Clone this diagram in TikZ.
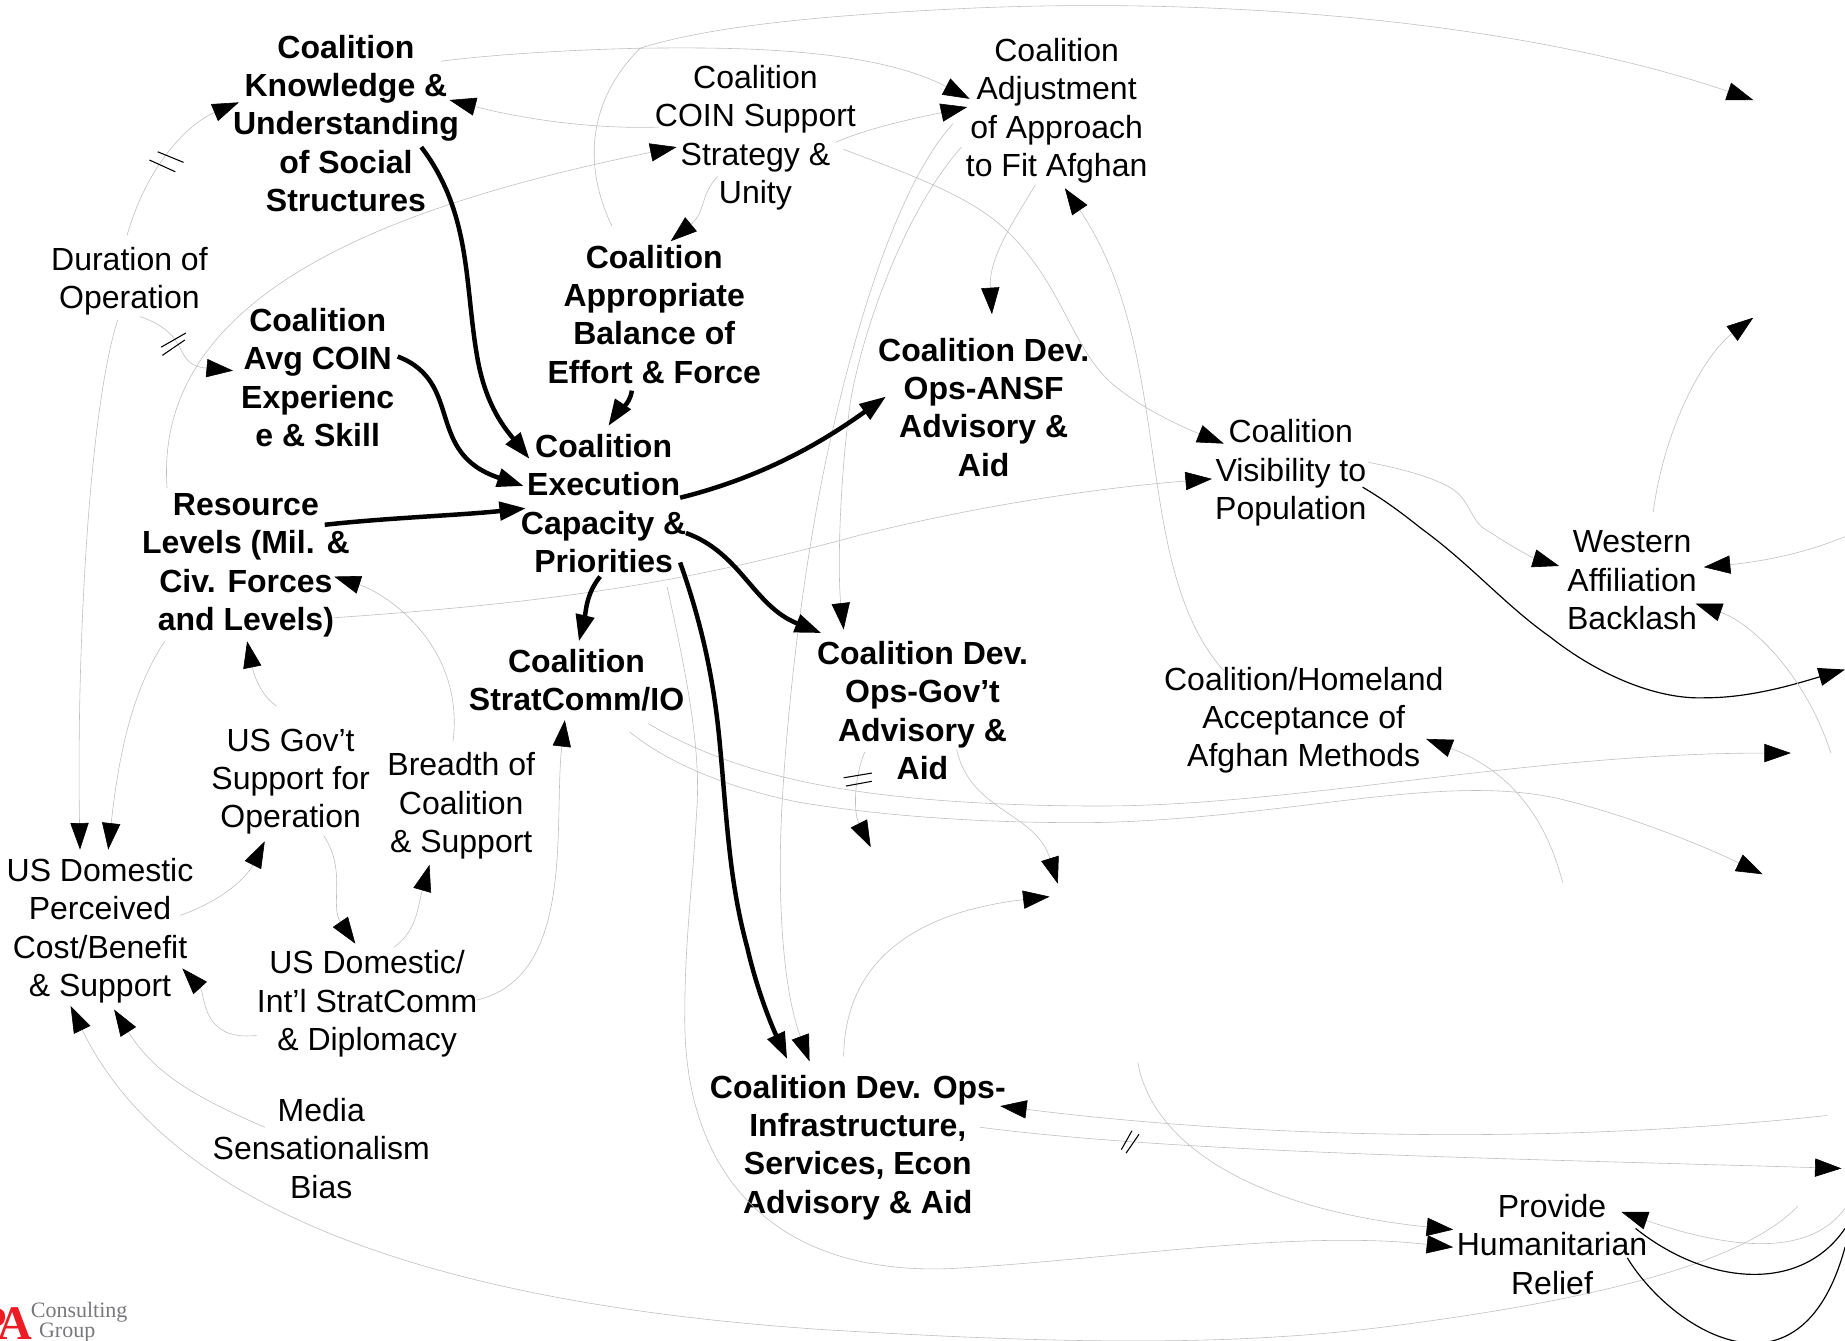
\documentclass[tikz,border=0pt]{standalone}
\usepackage{fontspec}
\setmainfont{Liberation Sans}
\newfontfamily\logofont{Liberation Serif}
\usetikzlibrary{arrows.meta,calc}
\definecolor{logored}{HTML}{ED1C24}
\definecolor{logogray}{HTML}{77787B}
\newcommand\lifta{\rule{0pt}{25.8pt}}
\newcommand\liftb{\rule{0pt}{23.8pt}}
\newcommand\liftc{\rule{0pt}{20.8pt}}
\tikzset{
  lbl/.style={align=center,inner sep=0pt,font=\fontsize{27.2}{32.6}\selectfont,text=black},
  lblb/.style={lbl,font=\fontsize{27.2}{32.6}\selectfont\bfseries},
  tip/.style={-{Triangle[length=22.5pt,width=15.5pt,color=black,fill=black]}},
  weaklink/.style={tip,draw=gray!50,line width=.5pt},
  blacklink/.style={draw=black,line width=1pt},
  blacktip/.style={blacklink,tip},
  boldlink/.style={tip,draw=black,line width=3.8pt},
  hashmark/.style={draw=black,line width=.9pt},
}
\begin{document}
\begin{tikzpicture}[x=1pt,y=-1pt]
\useasboundingbox (0,0) rectangle (1568,1139);
\node[lblb] (kn) at (294,105) {Coalition\\Knowledge \&\\Understanding\\of Social\\Structures};
\node[lbl] (cs) at (642,114) {\lifta Coalition\\COIN Support\\Strategy \&\\Unity};
\node[lbl] (aa) at (898,91) {\lifta Coalition\\Adjustment\\of Approach\\to Fit Afghan};
\node[lblb] (ab) at (556,267) {Coalition\\Appropriate\\Balance of\\Effort \& Force};
\node[lbl] (dur) at (110,236) {\lifta Duration of\\Operation};
\node[lblb] (avg) at (270,321) {Coalition\\Avg COIN\\Experienc\\e \& Skill};
\node[lblb] (ansf) at (836,346) {Coalition Dev.\\Ops-ANSF\\Advisory \&\\Aid};
\node[lblb] (ce) at (513,428) {Coalition\\Execution\\Capacity \&\\Priorities};
\node[lblb] (res) at (209,477) {\lifta Resource\\Levels (Mil. \&\\Civ. Forces\\and Levels)};
\node[lbl] (vis) at (1097,399) {\lifta Coalition\\Visibility to\\Population};
\node[lbl] (wab) at (1387,492) {\liftc Western\\Affiliation\\Backlash};
\node[lblb] (sc) at (490,578) {Coalition\\StratComm/IO};
\node[lblb] (gov) at (784,604) {Coalition Dev.\\Ops-Gov’t\\Advisory \&\\Aid};
\node[lbl] (hom) at (1108,610) {\liftb Coalition/Homeland\\Acceptance of\\Afghan Methods};
\node[lbl] (usg) at (247,661) {\lifta US Gov’t\\Support for\\Operation};
\node[lbl] (bre) at (392,683) {\liftb Breadth of\\Coalition\\\& Support};
\node[lbl] (usd) at (85,789) {\liftb US Domestic\\Perceived\\Cost/Benefit\\\& Support};
\node[lbl] (dip) at (312,851) {\liftb US Domestic/\\Int’l StratComm\\\& Diplomacy};
\node[lbl] (med) at (273,976) {Media\\Sensationalism\\Bias};
\node[lblb] (inf) at (729,973) {\liftb Coalition Dev. Ops-\\Infrastructure,\\Services, Econ\\Advisory \& Aid};
\node[lbl] (hum) at (1319,1057) {\liftc Provide\\Humanitarian\\Relief};
% logo
\node[inner sep=0pt,anchor=base east,text=logored,font=\logofont\fontsize{41}{41}\selectfont\bfseries] (logopa) at (28,1138) {P\kern-8pt A};
\node[inner sep=0pt,anchor=base west,align=left,text=logogray,font=\logofont\fontsize{18.7}{15}\selectfont] (logoc) at (26,1137) {Consulting\\\hspace*{7pt}Group};
% free ends
\coordinate (t1) at (1490,85);
\coordinate (t2) at (740,720);
\coordinate (t3) at (899,751);
\coordinate (t4) at (892,762);
\coordinate (t5) at (1522,640);
\coordinate (t6) at (1498,743);
\coordinate (s1) at (1328,750);
\coordinate (t7) at (1568,569);
\coordinate (t8) at (1490,270);
\coordinate (s2) at (1568,456);
\coordinate (s3) at (1556,640);
\coordinate (s4) at (1553,948);
\coordinate (t9) at (1565,993);
\coordinate (s5) at (967,903);
\coordinate (s6) at (1568,1027);
\coordinate (e1) at (1568,1044);
\coordinate (e2) at (1568,1060);
% thin connectors
\draw[weaklink] ($(kn)+(81,-53)$) .. controls (430,45) and (500,42) .. (544,41) .. controls (620,40) and (740,40) .. ($(aa)+(-74,-7)$);
\draw[weaklink] ($(ab)+(-36,-75)$) .. controls (495,140) and (500,85) .. (544,41) .. controls (610,20) and (720,12) .. (824,7) .. controls (1050,-3) and (1300,20) .. (t1);
\draw[weaklink] ($(cs)+(-82,-6)$) .. controls (500,110) and (440,100) .. ($(kn)+(88,-20)$);
\draw[weaklink] ($(cs)+(68,7)$) .. controls (740,108) and (780,100) .. ($(aa)+(-76,0)$);
\draw[weaklink] ($(cs)+(-32,36)$) .. controls (595,165) and (600,180) .. ($(ab)+(14,-62)$);
\draw[weaklink] ($(cs)+(75,13)$) .. controls (770,147) and (820,165) .. (850,191) .. controls (905,240) and (910,300) .. (950,330) .. controls (975,350) and (1010,365) .. ($(vis)+(-57,-22)$);
\draw[weaklink] ($(aa)+(-18,66)$) .. controls (860,190) and (840,220) .. ($(ansf)+(7,-79)$);
\draw[weaklink] ($(dur)+(-2,-36)$) .. controls (125,140) and (160,105) .. ($(kn)+(-91,-18)$);
\draw[weaklink] ($(dur)+(9,33)$) .. controls (165,285) and (145,310) .. ($(avg)+(-72,-6)$);
\draw[weaklink] ($(dur)+(-10,36)$) .. controls (75,350) and (65,560) .. ($(usd)+(-17,-67)$);
\draw[weaklink] ($(res)+(-67,-62)$) .. controls (130,250) and (330,175) .. ($(cs)+(-67,11)$);
\draw[weaklink] ($(res)+(75,48)$) .. controls (500,510) and (600,490) .. (730,455) .. controls (830,430) and (930,415) .. ($(vis)+(-67,8)$);
\draw[weaklink] ($(res)+(-69,68)$) .. controls (110,590) and (100,650) .. ($(usd)+(7,-67)$);
\draw[weaklink] ($(usg)+(-12,-61)$) .. controls (220,590) and (215,570) .. ($(res)+(1,68)$);
\draw[weaklink] ($(bre)+(-7,-53)$) .. controls (395,550) and (330,505) .. ($(res)+(75,13)$);
\draw[weaklink] ($(usd)+(68,-11)$) .. controls (190,765) and (210,745) .. ($(usg)+(-22,54)$);
\draw[weaklink] ($(usg)+(28,49)$) .. controls (295,740) and (280,770) .. ($(dip)+(-10,-49)$);
\draw[weaklink] ($(dip)+(23,-46)$) .. controls (355,790) and (355,770) .. ($(bre)+(-27,52)$);
\draw[weaklink] ($(dip)+(93,-1)$) .. controls (490,830) and (470,700) .. ($(sc)+(-10,34)$);
\draw[weaklink] ($(dip)+(-94,29)$) .. controls (170,885) and (175,845) .. ($(usd)+(70,34)$);
\draw[weaklink] ($(med)+(-48,-18)$) .. controls (160,930) and (130,910) .. ($(usd)+(12,69)$);
\draw[weaklink] ($(hum)+(209,-32)$) .. controls (1480,1075) and (1350,1105) .. (1190,1126) .. controls (1050,1145) and (900,1142) .. (700,1130) .. controls (400,1110) and (150,1040) .. ($(usd)+(-25,66)$);
\draw[weaklink] ($(ce)+(54,71)$) .. controls (585,580) and (596,640) .. (592,691) .. controls (588,760) and (582,800) .. (582,861) .. controls (580,1000) and (660,1085) .. (810,1078) .. controls (950,1070) and (1100,1045) .. ($(hum)+(-84,3)$);
\draw[weaklink] ($(aa)+(-88,14)$) .. controls (760,160) and (725,290) .. (708,364) .. controls (690,440) and (672,560) .. (665,677) .. controls (660,760) and (665,840) .. ($(inf)+(-41,-71)$);
\draw[weaklink] ($(aa)+(-81,34)$) .. controls (760,190) and (725,310) .. (721,355) .. controls (713,420) and (712,490) .. ($(gov)+(-67,-69)$);
\draw[weaklink] ($(gov)+(-49,35)$) .. controls (726,660) and (725,690) .. (t2);
\draw[weaklink] ($(gov)+(29,33)$) .. controls (825,690) and (880,690) .. (t3);
\draw[weaklink] ($(inf)+(-12,-75)$) .. controls (718,815) and (780,775) .. (t4);
\draw[weaklink] ($(sc)+(61,37)$) .. controls (610,650) and (680,668) .. (765,677) .. controls (810,682) and (870,685) .. (935,685) .. controls (1100,685) and (1300,640) .. (t5);
\draw[weaklink] ($(sc)+(45,44)$) .. controls (570,650) and (620,670) .. (680,682) .. controls (760,695) and (850,700) .. (935,699) .. controls (1100,695) and (1230,655) .. (1330,680) .. controls (1390,695) and (1450,720) .. (t6);
\draw[weaklink] (s1) .. controls (1310,680) and (1270,650) .. ($(hom)+(104,18)$);
\draw[weaklink] ($(hom)+(-68,-40)$) .. controls (960,480) and (1000,300) .. ($(aa)+(7,69)$);
\draw[weaklink] ($(vis)+(66,-6)$) .. controls (1190,398) and (1220,406) .. (1235,416) .. controls (1250,426) and (1250,445) .. (1266,452) .. controls (1285,465) and (1305,475) .. ($(wab)+(-62,-11)$);
\draw[blacktip] ($(vis)+(61,15)$) .. controls (1180,427) and (1195,439) .. (1209,450) .. controls (1250,480) and (1280,515) .. (1317,541) .. controls (1360,575) and (1410,595) .. (1450,593) .. controls (1490,593) and (1530,580) .. (t7);
\draw[weaklink] ($(wab)+(18,-57)$) .. controls (1415,360) and (1450,300) .. (t8);
\draw[weaklink] (s2) .. controls (1530,472) and (1490,478) .. ($(wab)+(61,-10)$);
\draw[weaklink] (s3) .. controls (1535,575) and (1490,530) .. ($(wab)+(54,21)$);
\draw[weaklink] (s4) .. controls (1300,975) and (1050,965) .. ($(inf)+(121,-33)$);
\draw[weaklink] ($(inf)+(104,-15)$) .. controls (1000,980) and (1300,985) .. (t9);
\draw[weaklink] (s5) .. controls (980,975) and (1070,1028) .. ($(hum)+(-84,-12)$);
\draw[weaklink] (s6) .. controls (1540,1065) and (1480,1065) .. ($(hum)+(59,-27)$);
\draw[blacklink] ($(hum)+(71,-13)$) .. controls (1450,1092) and (1530,1100) .. (e1);
\draw[blacklink] ($(hum)+(64,12)$) .. controls (1420,1130) and (1530,1200) .. (e2);
% bold connectors
\draw[boldlink] ($(kn)+(64,20)$) .. controls (400,180) and (395,240) .. (405,300) .. controls (412,345) and (430,365) .. ($(ce)+(-63,-38)$);
\draw[boldlink] ($(avg)+(68,-18)$) .. controls (395,325) and (360,385) .. ($(ce)+(-68,-15)$);
\draw[boldlink] ($(res)+(67,-31)$) .. controls (330,440) and (390,438) .. ($(ce)+(-66,4)$);
\draw[boldlink] ($(ab)+(-19,65)$) .. controls (535,345) and (525,350) .. ($(ce)+(4,-66)$);
\draw[boldlink] ($(ce)+(65,-5)$) .. controls (650,405) and (700,375) .. ($(ansf)+(-83,-9)$);
\draw[boldlink] ($(ce)+(70,25)$) .. controls (630,470) and (640,515) .. ($(gov)+(-86,-66)$);
\draw[boldlink] ($(ce)+(-3,62)$) .. controls (498,505) and (498,520) .. ($(sc)+(2,-33)$);
\draw[boldlink] ($(ce)+(65,50)$) .. controls (600,540) and (608,590) .. (612,635) .. controls (618,700) and (620,750) .. (635,805) .. controls (643,840) and (655,870) .. ($(inf)+(-60,-73)$);
% hash marks
\draw[hashmark] (127,136) -- (149,146) (134,129) -- (156,138);
\draw[hashmark] (137,295) -- (158,283) (138,302) -- (157,289);
\draw[hashmark] (717,661) -- (741,657) (719,668) -- (741,664);
\draw[hashmark] (953,977) -- (962,961) (957,980) -- (968,964);
\end{tikzpicture}
\end{document}
